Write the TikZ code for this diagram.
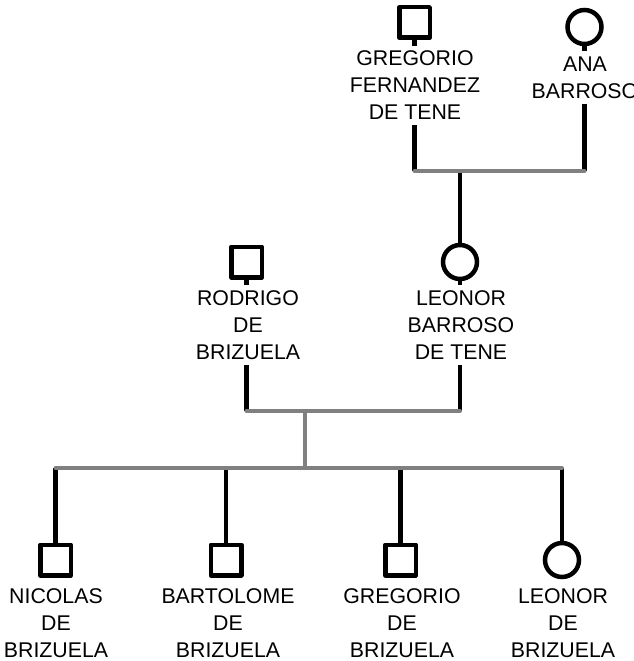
\documentclass[tikz,border=0pt]{standalone}
\usepackage{fontspec}
\setmainfont{Liberation Sans}
\definecolor{linegray}{HTML}{808080}
\begin{document}
\begin{tikzpicture}[x=1pt,y=-1pt,
  male/.style={rectangle, draw, line width=4.5pt, line join=round, minimum size=30.5pt, inner sep=0pt},
  female/.style={circle, draw, line width=4.5pt, minimum size=34pt, inner sep=0pt},
  personname/.style={align=center, font=\fontsize{21.3pt}{27pt}\selectfont, inner xsep=2pt, inner ysep=5pt},
  kin/.style={line width=4.5pt},
  marriage/.style={line width=4pt, draw=linegray, line cap=round}]
\useasboundingbox (0,0) rectangle (634,661);

% grandparents
\node[male]   (gf)  at (414.5,22.5) {};
\node[female] (ana) at (584.5,27) {};
\node[personname] (gfl)  at (415,85.5) {GREGORIO\\FERNANDEZ\\DE TENE};
\node[personname] (anal) at (585,77.5) {ANA\\BARROSO};

% parents
\node[male]   (rod) at (246.5,262) {};
\node[female] (lnr) at (460,262) {};
\node[personname] (rodl) at (248,325) {RODRIGO\\DE\\BRIZUELA};
\node[personname] (lnrl) at (461,325) {LEONOR\\BARROSO\\DE TENE};

% children
\node[male]   (nic) at (55.5,560) {};
\node[male]   (bar) at (226,560) {};
\node[male]   (gre) at (400.5,560) {};
\node[female] (leo) at (562,560) {};
\node[personname] (nicl) at (56,623)  {NICOLAS\\DE\\BRIZUELA};
\node[personname] (barl) at (228,623) {BARTOLOME\\DE\\BRIZUELA};
\node[personname] (grel) at (402,623) {GREGORIO\\DE\\BRIZUELA};
\node[personname] (leol) at (563,623) {LEONOR\\DE\\BRIZUELA};

% junction points on the union lines
\coordinate (u1a) at (414.5,171);
\coordinate (u1b) at (584.5,171);
\coordinate (u1m) at (460,171);
\coordinate (u2a) at (246.5,411);
\coordinate (u2b) at (460,411);
\coordinate (u2m) at (305,411);
\coordinate (sibm) at (305,468);
\coordinate (sibl) at (55.5,468);
\coordinate (sibr) at (562,468);

% descent lines
\draw[kin] (gf.south) -- (gf |- gfl.north);
\draw[kin] (gf |- gfl.south) -- (u1a);
\draw[kin] (ana.south) -- (ana |- anal.north);
\draw[kin] (ana |- anal.south) -- (u1b);
\draw[kin] (u1m) -- (lnr.north);
\draw[kin] (rod.south) -- (rod |- rodl.north);
\draw[kin] (rod |- rodl.south) -- (u2a);
\draw[kin] (lnr.south) -- (lnr |- lnrl.north);
\draw[kin] (lnr |- lnrl.south) -- (u2b);
\foreach \c in {nic,bar,gre,leo}
  \draw[kin] (\c |- sibl) -- (\c.north);

% unions and sibling line
\draw[marriage] (u1a) -- (u1b);
\draw[marriage] (u2a) -- (u2b);
\draw[marriage] (u2m) -- (sibm);
\draw[marriage] (sibl) -- (sibr);
\end{tikzpicture}
\end{document}
